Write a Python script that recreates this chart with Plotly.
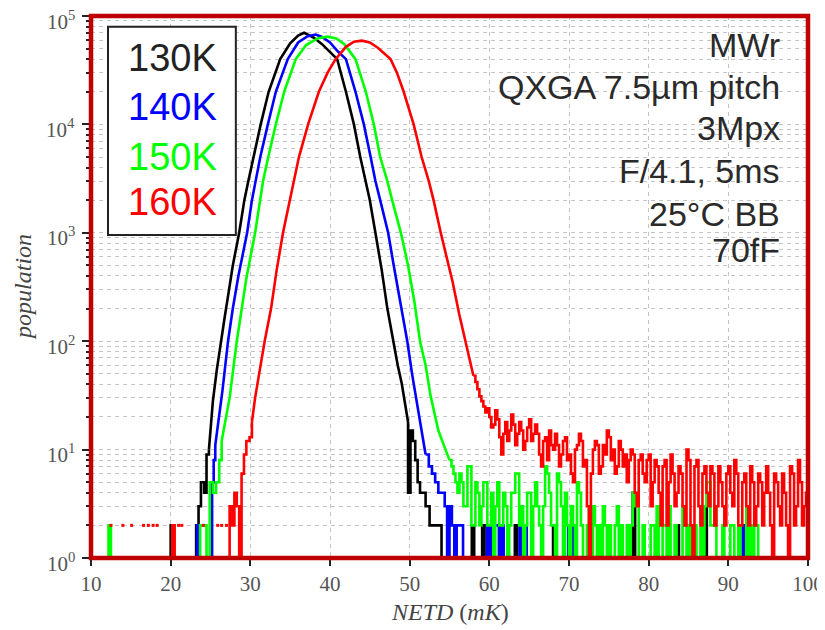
import numpy as np
import plotly.graph_objects as go

# ---------------- data ----------------
# 130K (black)
black_left_x = [19.8, 20.0, 20.4, 23.2, 23.5, 23.8, 24.2, 24.5, 24.8]
black_left_y = [1, 2, 1, 2, 3, 5, 4, 9, 10]
black_body_x = [24.8, 25.3, 25.8, 26.3, 26.8, 27.3, 27.8, 28.6, 29.25, 29.75, 30.4, 31.3, 32.3, 33.75,
                35.0, 36.0, 36.75, 38.0, 39.0, 40.0, 40.9, 42.0, 43.0, 43.8, 44.5, 45.0, 45.7, 46.5,
                47.2, 47.9, 48.5, 49.0, 49.5, 49.8]
black_body_y = [10, 28, 55, 100, 170, 290, 500, 1000, 2000, 3000, 5000, 10000, 20000, 40000,
                56000, 66000, 70000, 63000, 55000, 47000, 40000, 20000, 10000, 5000, 3000, 2000, 1000, 450,
                200, 100, 60, 41, 25, 18]
black_right_x = [49.8, 49.8, 50.1, 50.4, 50.7, 51.0, 51.3, 51.6, 52.0, 52.5, 53.0, 53.5, 54.0, 57.8, 58.1,
                 59.1, 59.4, 63.2, 63.5, 68.0, 68.3, 78.0, 78.3, 83.5, 83.8, 87.0, 87.3, 100.0]
black_right_y = [18, 4, 15, 12, 8, 5, 4, 4, 3, 2, 2, 2, 1, 2, 1,
                 2, 1, 2, 1, 2, 1, 4, 1, 2, 1, 3, 1, 1]

# 140K (blue)
blue_left_x = [22.9, 23.3, 23.6, 25.2, 25.4, 25.6]
blue_left_y = [1, 2, 1, 5, 8, 11]
blue_body_x = [25.6, 26.0, 26.5, 27.2, 27.8, 28.5, 29.0, 29.6, 30.2, 30.7, 31.25, 32.2, 33.2, 34.7,
               36.0, 37.2, 38.2, 39.0, 40.0, 41.0, 42.0, 43.2, 44.25, 45.1, 45.7, 46.3, 47.3, 48.0,
               48.8, 49.7, 50.3, 50.9, 51.5, 52.0]
blue_body_y = [11, 18, 35, 100, 200, 400, 600, 1000, 2000, 3000, 5000, 10000, 20000, 40000,
               57000, 65000, 67500, 64000, 57000, 47000, 40000, 20000, 10000, 5000, 3000, 2000, 1000, 500,
               230, 100, 50, 27, 15, 9]
blue_right_x = [52.0, 52.4, 52.8, 53.2, 53.6, 54.0, 54.4, 54.7, 55.0, 55.3, 55.6, 55.9, 56.3, 56.7,
                59.7, 60.0, 60.3, 60.8, 61.2, 61.5, 61.8, 63.8, 64.1, 64.4, 64.7, 69.9, 70.5,
                91.8, 92.1, 100.0]
blue_right_y = [9, 7, 6, 5, 4, 4, 3, 1, 3, 2, 1, 2, 2, 1,
                2, 1, 2, 2, 1, 2, 1, 2, 1, 2, 1, 2, 1,
                2, 1, 1]

# 150K (green)
green_left_x = [11.9, 12.2, 12.5, 23.7, 24.5, 24.9, 25.3, 25.7, 26.1, 26.4]
green_left_y = [1, 2, 1, 2, 1, 5, 4, 5, 8, 12]
green_body_x = [26.4, 27.0, 27.4, 28.3, 28.9, 29.5, 30.6, 31.2, 31.6, 32.25, 33.2, 34.25, 35.7, 37.0,
                38.5, 39.7, 40.8, 41.8, 43.2, 44.5, 45.5, 46.3, 47.2, 47.8, 48.9, 49.8, 50.6, 51.3,
                52.0, 52.6, 53.6, 54.5, 55.0]
green_body_y = [12, 22, 30, 100, 200, 380, 1000, 2000, 3000, 5000, 10000, 20000, 40000, 54000,
                62500, 64500, 62000, 55000, 40000, 20000, 10000, 5000, 3000, 2000, 1000, 500, 230, 100,
                60, 32, 15, 10, 8]
green_tail_start = 55.0
green_tail_y = [8, 7, 6, 5, 4, 6, 5, 3,
                3, 7, 7, 2, 2, 5, 4, 2,
                3, 5, 5, 2, 2, 4, 1, 3,
                5, 2, 2, 4, 3, 1, 2, 4,
                4, 6, 6, 2, 3, 1, 2, 4,
                4, 1, 3, 5, 3, 2, 1, 3,
                7, 6, 4, 2, 2, 1, 6, 5,
                3, 1, 4, 2, 1, 3, 2, 1,
                5, 4, 2, 1, 1, 2, 3, 1,
                3, 2, 1, 2, 1, 3, 2, 1,
                2, 1, 1, 2, 3, 1, 2, 1,
                1, 2, 1, 2, 4, 3, 3, 1,
                1, 2, 1, 1, 1, 2, 2, 1,
                3, 1, 1, 2, 2, 1, 3, 1,
                1, 2, 1, 1, 1, 3, 2, 1,
                2, 1, 1, 2, 1, 1, 3, 1,
                3, 5, 5, 2, 2, 3, 1, 1,
                1, 2, 1, 1, 1, 2, 2, 1,
                1, 2, 1, 1, 1, 3, 1, 2,
                1, 2, 2, 1, 1, 1, 1, 1,
                1]

# 160K (red)
red_left_x = [19.9, 20.2, 20.5, 27.4, 27.7, 28.0, 28.3, 28.6, 28.9, 29.2, 29.5, 29.9, 30.2]
red_left_y = [1, 2, 1, 3, 2, 4, 3, 1, 6, 9, 12, 13, 18]
red_body_x = [30.2, 30.6, 31.2, 31.8, 32.6, 33.3, 34.1, 35.0, 35.5, 36.1, 37.25, 38.6, 39.7, 40.7,
              42.0, 43.0, 44.0, 45.0, 46.0, 47.0, 47.6, 48.4, 49.25, 50.5, 51.5, 52.4, 53.0, 53.9,
              54.6, 55.4, 56.2, 57.0, 57.5, 58.0]
red_body_y = [18, 30, 55, 100, 200, 450, 1000, 2000, 3000, 5000, 10000, 20000, 30000, 40000,
              52000, 58000, 59200, 57000, 51000, 44000, 40000, 30000, 20000, 10000, 5000, 3000, 2000, 1000,
              600, 350, 180, 100, 70, 48]
red_tail_start = 58.0
red_tail_y = [48, 42, 36, 31, 28, 25, 22, 24,
              20, 16, 17, 23, 19, 13, 9, 14,
              18, 12, 15, 21, 17, 11, 14, 18,
              15, 10, 12, 16, 19, 12, 14, 17,
              14, 9, 7, 12, 13, 8, 15, 11,
              10, 14, 11, 7, 9, 12, 13, 8,
              9, 6, 5, 10, 11, 14, 12, 7,
              8, 3, 1, 6, 10, 12, 11, 6,
              7, 11, 9, 15, 13, 8, 10, 6,
              7, 12, 10, 7, 9, 5, 8, 10,
              9, 4, 3, 8, 9, 6, 5, 8,
              9, 3, 5, 8, 7, 4, 2, 7,
              8, 2, 5, 9, 6, 3, 4, 7,
              6, 3, 2, 10, 8, 2, 1, 7,
              8, 3, 2, 6, 7, 4, 3, 7,
              6, 2, 3, 7, 5, 3, 2, 6,
              7, 4, 3, 8, 6, 2, 2, 5,
              6, 3, 2, 7, 5, 2, 3, 6,
              5, 2, 4, 7, 4, 2, 1, 6,
              5, 3, 2, 6, 4, 2, 1, 7,
              6, 2, 3, 8, 5, 2, 3, 4,
              4]
red_dots_x = [12.5, 14.0, 15.1, 16.6, 17.2, 17.8, 18.3, 21.0, 21.4, 24.1, 25.9, 26.4, 27.0]
red_dots_y = [2, 2, 2, 2, 2, 2, 2, 2, 2, 2, 2, 2, 2]

legend_labels = ["130K", "140K", "150K", "160K"]
info_lines = ["MWr", "QXGA 7.5µm pitch", "3Mpx", "F/4.1, 5ms", "25°C BB", "70fF"]
x_ticks = [10, 20, 30, 40, 50, 60, 70, 80, 90, 100]
y_ticks = [1, 10, 100, 1000, 10000, 100000]
y_tick_exponents = [0, 1, 2, 3, 4, 5]
y_minor = [k * 10 ** n for n in range(5) for k in range(2, 10)]

# ---------------- figure ----------------
BIN = 0.25
green_tail_x = list(np.arange(green_tail_start, 95.0, BIN)) + [100.0]
red_tail_x = list(np.arange(red_tail_start, 100.0, BIN)) + [100.0]

colors = {"black": "#000000", "blue": "#0000ff", "green": "#00ff00", "red": "#ff0000"}
LW = 2.6

fig = go.Figure()

def add(x, y, color, shape):
    fig.add_trace(go.Scatter(x=x, y=y, mode="lines", line=dict(color=color, width=LW, shape=shape),
                             hoverinfo="skip", showlegend=False))

add(black_left_x, black_left_y, colors["black"], "hv")
add(black_body_x, black_body_y, colors["black"], "linear")
add(black_right_x, black_right_y, colors["black"], "hv")
add(blue_left_x, blue_left_y, colors["blue"], "hv")
add(blue_body_x, blue_body_y, colors["blue"], "linear")
add(blue_right_x, blue_right_y, colors["blue"], "hv")
add(green_left_x, green_left_y, colors["green"], "hv")
add(green_body_x, green_body_y, colors["green"], "linear")
add(green_tail_x, green_tail_y, colors["green"], "hv")
add(red_left_x, red_left_y, colors["red"], "hv")
add(red_body_x, red_body_y, colors["red"], "linear")
add(red_tail_x, red_tail_y, colors["red"], "hv")
fig.add_trace(go.Scatter(x=red_dots_x, y=red_dots_y, mode="markers",
                         marker=dict(color=colors["red"], size=3, symbol="square"),
                         hoverinfo="skip", showlegend=False))

grid = dict(showgrid=True, gridcolor="#c4c4c4", gridwidth=1, griddash="4px,4px")
tickfont = dict(family="Liberation Serif, DejaVu Serif, serif", size=21, color="#555555")

fig.update_xaxes(range=[10, 100], tickmode="array", tickvals=x_ticks, automargin=False,
                 ticklabeloverflow="allow",
                 ticks="outside", ticklen=7, tickwidth=1.5, tickcolor="#222222",
                 tickfont=tickfont, zeroline=False, showline=False, **grid)
fig.update_yaxes(type="log", range=[0, 5], tickmode="array", tickvals=y_ticks,
                 showticklabels=False, automargin=False,
                 ticks="outside", ticklen=8, tickwidth=1.5, tickcolor="#222222",
                 zeroline=False, showline=False,
                 minor=dict(tickmode="array", tickvals=y_minor, ticks="outside", ticklen=4,
                            tickwidth=1.5, tickcolor="#222222", showgrid=True,
                            gridcolor="#c4c4c4", gridwidth=1, griddash="4px,4px"),
                 **grid)

shapes = [
    dict(type="rect", xref="paper", yref="paper", x0=0.0237, x1=0.202, y0=0.596, y1=0.980,
         line=dict(color="#222222", width=2), fillcolor="white", layer="above"),
    dict(type="rect", xref="paper", yref="paper", x0=0, x1=1, y0=0, y1=1,
         line=dict(color="#c00000", width=4.5), layer="above"),
]

annotations = []
# y tick labels (10^n), set slightly below each decade tick as in the reference
for e in y_tick_exponents:
    annotations.append(dict(text=f"10<sup>{e}</sup>", xref="paper", yref="y", x=-0.019, y=e,
                            xanchor="right", yanchor="middle", yshift=-4, showarrow=False,
                            font=tickfont))
leg_colors = ["#222222", "#0000ff", "#00ff00", "#ff0000"]
leg_y = [0.9225, 0.833, 0.740, 0.657]
for lab, c, yy in zip(legend_labels, leg_colors, leg_y):
    annotations.append(dict(text=lab, xref="paper", yref="paper", x=0.113, y=yy,
                            xanchor="center", yanchor="middle", showarrow=False,
                            font=dict(family="Liberation Sans, Arial, sans-serif", size=38, color=c)))
info_y = [0.947, 0.869, 0.793, 0.714, 0.634, 0.568]
for t, yy in zip(info_lines, info_y):
    annotations.append(dict(text=t, xref="paper", yref="paper", x=0.9637, y=yy,
                            xanchor="right", yanchor="middle", showarrow=False,
                            font=dict(family="Liberation Sans, Arial, sans-serif", size=34, color="#2a2a2a")))
annotations.append(dict(text="<i>NETD</i> (<i>mK</i>)", xref="paper", yref="paper", x=0.5, y=-0.1,
                        xanchor="center", yanchor="middle", showarrow=False,
                        font=dict(family="Liberation Serif, DejaVu Serif, serif", size=24, color="#444444")))
annotations.append(dict(text="<i>population</i>", xref="paper", yref="paper", x=-0.095, y=0.5,
                        xanchor="center", yanchor="middle", showarrow=False, textangle=-90,
                        font=dict(family="Liberation Serif, DejaVu Serif, serif", size=24, color="#444444")))

# The page body has an 8px default margin, so the figure is sized/margined to put the
# plot area at the same window pixels as the reference (plot area x 91..808, y 16..558).
fig.update_layout(width=830, height=622, margin=dict(l=83, r=30, t=8, b=72, autoexpand=False),
                  plot_bgcolor="white", paper_bgcolor="white", showlegend=False,
                  shapes=shapes, annotations=annotations)

fig.write_html("out.html")
